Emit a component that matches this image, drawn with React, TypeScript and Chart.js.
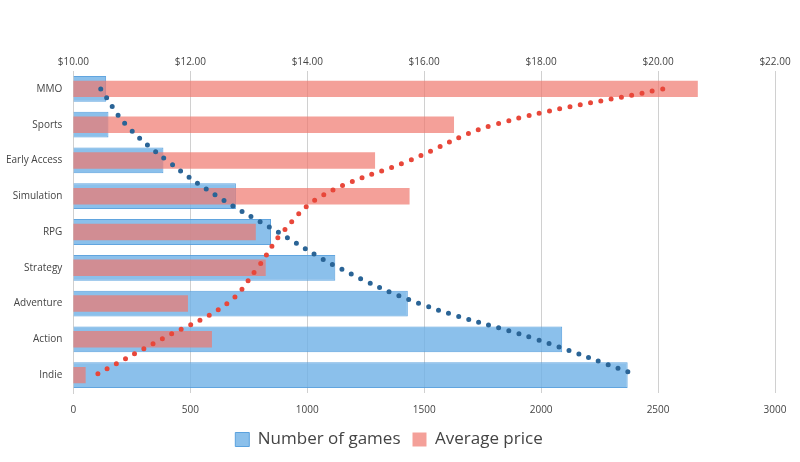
import React, { useEffect, useRef } from "react";
import { Chart, registerables } from "chart.js";
Chart.register(...registerables);

const categories = ["MMO", "Sports", "Early Access", "Simulation", "RPG", "Strategy", "Adventure", "Action", "Indie"];
const gamesCount = [140, 150, 385, 695, 845, 1120, 1430, 2090, 2370];
const avgPrice = [20.68, 16.51, 15.16, 15.75, 13.12, 13.29, 11.96, 12.37, 10.21];
const gamesTrend = [117, 225, 400, 615, 875, 1135, 1480, 1980, 2410];
const priceTrend = [20.08, 17.2, 15.75, 14.24, 13.58, 13.15, 12.63, 11.5, 10.38];

export default function App() {
  const ref = useRef<HTMLCanvasElement>(null);
  useEffect(() => {
    document.body.style.margin = "0";
    const font = { family: "'Open Sans', sans-serif", size: 10 };
    const chart = new Chart(ref.current!, {
      type: "bar",
      data: {
        labels: categories,
        datasets: [
          {
            type: "line", label: "t1", data: gamesTrend, xAxisID: "x", indexAxis: "y",
            borderColor: "#2a6496", borderWidth: 5, borderDash: [0, 10.5], borderCapStyle: "round",
            pointRadius: 0, tension: 0.4, fill: false, order: 0,
          } as any,
          {
            type: "line", label: "t2", data: priceTrend, xAxisID: "x2", indexAxis: "y",
            borderColor: "#e8473a", borderWidth: 5, borderDash: [0, 10.5], borderCapStyle: "round",
            pointRadius: 0, tension: 0.4, fill: false, order: 0,
          } as any,
          {
            label: "Number of games", data: gamesCount, xAxisID: "x",
            backgroundColor: "rgba(110,176,230,0.8)", borderColor: "rgba(80,155,220,0.9)", borderWidth: 1,
            grouped: false, barPercentage: 0.72, categoryPercentage: 1, order: 2,
          } as any,
          {
            label: "Average price", data: avgPrice, xAxisID: "x2",
            backgroundColor: "rgba(240,120,110,0.7)", borderWidth: 0,
            grouped: false, barPercentage: 0.46, categoryPercentage: 1, order: 1,
          } as any,
        ],
      },
      options: {
        indexAxis: "y",
        animation: false,
        maintainAspectRatio: false,
        responsive: true,
        layout: { padding: { top: 53, right: 25, left: 3, bottom: 4 } },
        scales: {
          y: {
            grid: { display: false },
            border: { display: true, color: "#d0d0d0" },
            ticks: { color: "#444", font },
          },
          x: {
            position: "bottom", min: 0, max: 3000,
            ticks: { stepSize: 500, color: "#444", font, callback: (v: any) => String(v) },
            grid: { display: false },
            border: { display: false },
          },
          x2: {
            position: "top", min: 10, max: 22,
            ticks: { stepSize: 2, color: "#444", font, callback: (v: any) => "$" + Number(v).toFixed(2) },
            grid: { color: "#d0d0d0", drawTicks: false },
            border: { display: false },
          },
        },
        plugins: {
          tooltip: { enabled: false },
          legend: {
            position: "bottom",
            labels: {
              filter: (i: any) => !i.text.startsWith("t"),
              sort: (a: any, b: any) => a.datasetIndex - b.datasetIndex,
              color: "#444", font: { family: "'Open Sans', sans-serif", size: 17 },
              boxWidth: 14, boxHeight: 14, padding: 12,
            },
          },
        },
      },
    });
    return () => chart.destroy();
  }, []);
  return (
    <div style={{ width: 800, height: 462, position: "relative" }}>
      <canvas ref={ref} />
    </div>
  );
}
